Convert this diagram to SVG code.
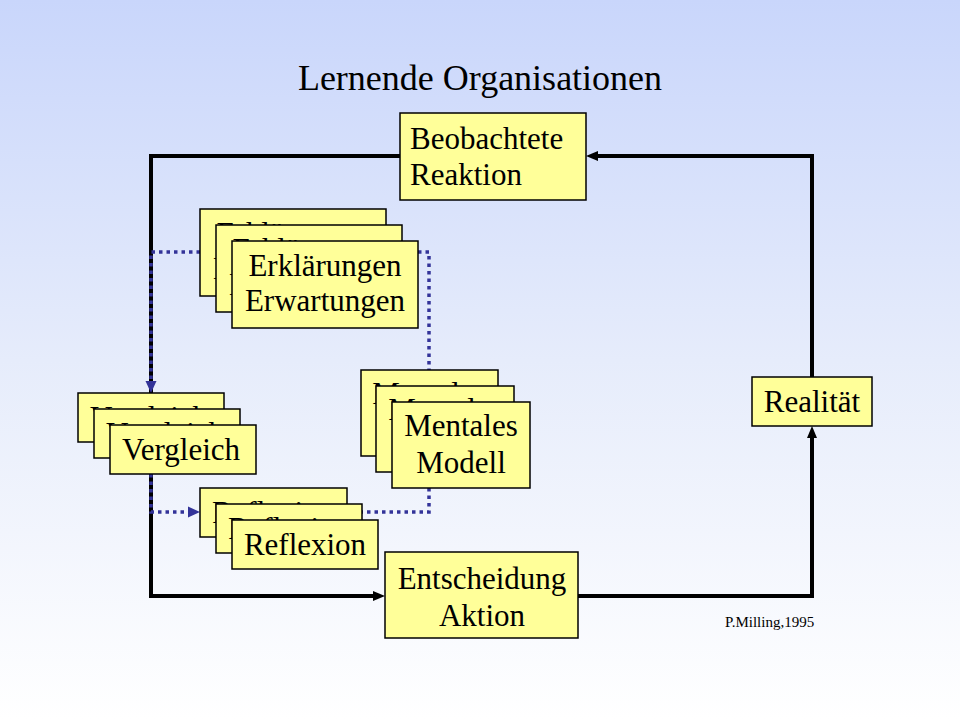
<svg xmlns="http://www.w3.org/2000/svg" width="960" height="720" viewBox="0 0 960 720">
  <defs>
    <linearGradient id="bg" x1="0" y1="0" x2="0" y2="1">
      <stop offset="0" stop-color="#c9d6fb"/>
      <stop offset="0.5" stop-color="#e6ecfb"/>
      <stop offset="1" stop-color="#ffffff"/>
    </linearGradient>
    <marker id="ak" markerUnits="userSpaceOnUse" viewBox="0 0 12 12" refX="0" refY="6" markerWidth="12" markerHeight="12" orient="auto">
      <path d="M0,1 L12,6 L0,11 z" fill="#000"/>
    </marker>
    <marker id="ab" markerUnits="userSpaceOnUse" viewBox="0 0 12 12" refX="0" refY="6" markerWidth="12" markerHeight="12" orient="auto">
      <path d="M0,0.5 L12,6 L0,11.5 z" fill="#333399"/>
    </marker>
  </defs>
  <style>
    .box { fill: #ffff99; stroke: #000; stroke-width: 1.5; }
    .t { font-family: "Liberation Serif", "Times New Roman", serif; font-size: 31px; fill: #000; }
    .c { text-anchor: middle; }
    .solid { fill: none; stroke: #000; stroke-width: 4; stroke-linejoin: miter; }
    .dot { fill: none; stroke: #333399; stroke-width: 3.5; stroke-dasharray: 3.5 4; }
  </style>
  <rect x="0" y="0" width="960" height="720" fill="url(#bg)"/>

  <text x="480" y="90" class="c" font-family="Liberation Serif, Times New Roman, serif" font-size="36" fill="#000">Lernende Organisationen</text>

  <g id="connectors">
    <path class="solid" d="M400,156 H151 V596 H373" marker-end="url(#ak)"/>
    <path class="solid" d="M578,596 H812 V438" marker-end="url(#ak)"/>
    <path class="solid" d="M812,377 V156 H598" marker-end="url(#ak)"/>
    <path class="dot" d="M200,252 H151 V381" marker-end="url(#ab)"/>
    <path class="dot" d="M418,252 H429 V370"/>
    <path class="dot" d="M429,488 V512 H362"/>
    <path class="dot" d="M151,474 V512 H188" marker-end="url(#ab)"/>
  </g>

  <g id="beobachtete-reaktion">
    <rect class="box" x="400" y="113" width="186" height="87"/>
    <text class="t" x="410" y="149">Beobachtete</text>
    <text class="t" x="410" y="185">Reaktion</text>
  </g>

  <g id="erklaerungen-3">
    <rect class="box" x="200" y="209" width="186" height="87"/>
    <text class="t c" x="293" y="244">Erklärungen</text>
    <text class="t c" x="293" y="279">Erwartungen</text>
  </g>
  <g id="erklaerungen-2">
    <rect class="box" x="216" y="225" width="186" height="87"/>
    <text class="t c" x="309" y="260">Erklärungen</text>
    <text class="t c" x="309" y="295">Erwartungen</text>
  </g>
  <g id="erklaerungen">
    <rect class="box" x="232" y="241" width="186" height="87"/>
    <text class="t c" x="325" y="276">Erklärungen</text>
    <text class="t c" x="325" y="311">Erwartungen</text>
  </g>

  <g id="mentales-modell-3">
    <rect class="box" x="361" y="370" width="137" height="86"/>
    <text class="t c" x="429" y="404">Mentales</text>
    <text class="t c" x="429" y="441">Modell</text>
  </g>
  <g id="mentales-modell-2">
    <rect class="box" x="376" y="386" width="138" height="86"/>
    <text class="t c" x="445" y="420">Mentales</text>
    <text class="t c" x="445" y="457">Modell</text>
  </g>
  <g id="mentales-modell">
    <rect class="box" x="392" y="402" width="138" height="86"/>
    <text class="t c" x="461" y="436">Mentales</text>
    <text class="t c" x="461" y="473">Modell</text>
  </g>

  <g id="vergleich-3">
    <rect class="box" x="78" y="393" width="146" height="49"/>
    <text class="t c" x="149" y="428">Vergleich</text>
  </g>
  <g id="vergleich-2">
    <rect class="box" x="94" y="409" width="146" height="49"/>
    <text class="t c" x="165" y="444">Vergleich</text>
  </g>
  <g id="vergleich">
    <rect class="box" x="110" y="425" width="146" height="49"/>
    <text class="t c" x="181" y="460">Vergleich</text>
  </g>

  <g id="reflexion-3">
    <rect class="box" x="200" y="488" width="147" height="49"/>
    <text class="t c" x="273" y="523">Reflexion</text>
  </g>
  <g id="reflexion-2">
    <rect class="box" x="216" y="504" width="146" height="49"/>
    <text class="t c" x="289" y="539">Reflexion</text>
  </g>
  <g id="reflexion">
    <rect class="box" x="232" y="520" width="146" height="49"/>
    <text class="t c" x="305" y="555">Reflexion</text>
  </g>

  <g id="entscheidung-aktion">
    <rect class="box" x="385" y="552" width="193" height="86"/>
    <text class="t c" x="482" y="589">Entscheidung</text>
    <text class="t c" x="482" y="626">Aktion</text>
  </g>

  <g id="realitaet">
    <rect class="box" x="752" y="377" width="120" height="49"/>
    <text class="t c" x="812" y="412">Realität</text>
  </g>

  <text x="725" y="627" font-family="Liberation Serif, Times New Roman, serif" font-size="15" fill="#000">P.Milling,1995</text>
</svg>
